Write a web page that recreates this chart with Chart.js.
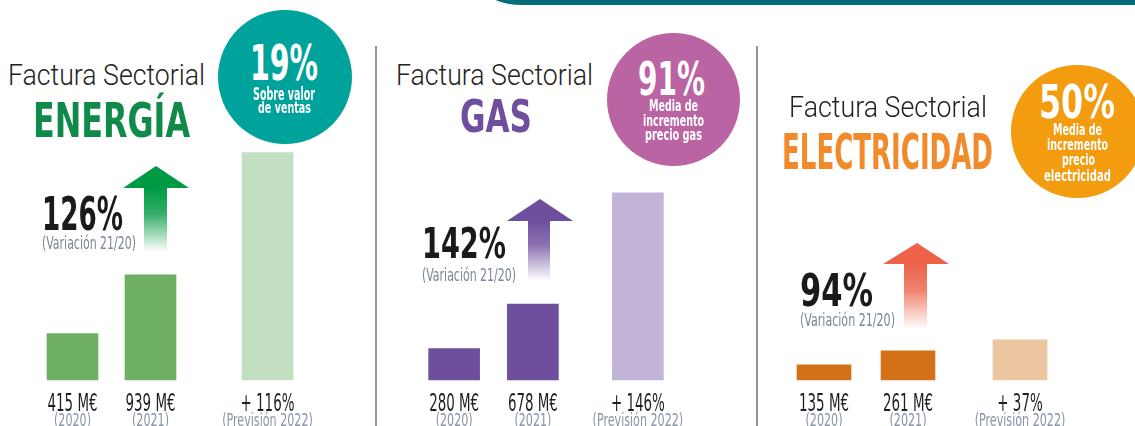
<!DOCTYPE html>
<html>
<head>
<meta charset="utf-8">
<script src="https://cdn.jsdelivr.net/npm/chart.js@4"></script>
<style>
  html, body { margin: 0; padding: 0; background: #fff; }
  #wrap { position: relative; width: 1135px; height: 426px; overflow: hidden; background: #fff; }
  .txt { position: absolute; white-space: nowrap; line-height: 1; transform-origin: left top; }
  .banner { position: absolute; left: 482px; right: -20px; top: -30px; height: 35px; background: #006c7c; border-bottom-left-radius: 40px 20px; }
  .divider { position: absolute; top: 46px; bottom: 0; width: 2px; background: #949494; }
  .circle { position: absolute; border-radius: 50%; }
  canvas { position: absolute; }
  svg { position: absolute; left: 0; top: 0; }
</style>
</head>
<body>
<div id="wrap">
  <div class="banner"></div>
  <div class="divider" style="left:375px"></div>
  <div class="divider" style="left:756px"></div>
  <div class="circle" style="left:218px;top:10px;width:134px;height:134px;background:#00a39b"></div>
  <div class="circle" style="left:607px;top:33px;width:133px;height:133px;background:#bb64a3"></div>
  <div class="circle" style="left:1011px;top:65px;width:133px;height:133px;background:#f49c10"></div>
  <svg width="1135" height="426">
    <defs>
      <linearGradient id="gEn" x1="0" y1="0" x2="0" y2="1">
        <stop offset="0" stop-color="#009a44" stop-opacity="1"/>
        <stop offset="0.4" stop-color="#009a44" stop-opacity="0.8"/>
        <stop offset="1" stop-color="#009a44" stop-opacity="0"/>
      </linearGradient>
      <linearGradient id="gGas" x1="0" y1="0" x2="0" y2="1">
        <stop offset="0" stop-color="#6f4e9e" stop-opacity="1"/>
        <stop offset="0.4" stop-color="#6f4e9e" stop-opacity="0.8"/>
        <stop offset="1" stop-color="#6f4e9e" stop-opacity="0"/>
      </linearGradient>
      <linearGradient id="gEl" x1="0" y1="0" x2="0" y2="1">
        <stop offset="0" stop-color="#ec634a" stop-opacity="1"/>
        <stop offset="0.4" stop-color="#ec634a" stop-opacity="0.8"/>
        <stop offset="1" stop-color="#ec634a" stop-opacity="0"/>
      </linearGradient>
    </defs>
    <polygon points="156,166 189,188 123,188" fill="#009a44"/>
    <rect x="144" y="188" width="23" height="64" fill="url(#gEn)"/>
    <polygon points="540,199 573,221 507,221" fill="#6f4e9e"/>
    <rect x="528" y="221" width="22" height="60" fill="url(#gGas)"/>
    <polygon points="917,243 949,264 883,264" fill="#ec634a"/>
    <rect x="904" y="264" width="23" height="65" fill="url(#gEl)"/>
  </svg>
  <canvas id="cEnergia" width="375" height="315" style="left:0;top:111px"></canvas>
  <canvas id="cGas" width="379" height="315" style="left:377px;top:111px"></canvas>
  <canvas id="cElec" width="377" height="315" style="left:758px;top:111px"></canvas>
</div>
<script>
// ---- data ----
const yearLabels = ['(2020)', '(2021)', '(Previsión 2022)'];

const energiaValues = [415, 939, 2030];
const energiaTicks = ['415 M€', '939 M€', '+ 116%'];

const gasValues = [280, 678, 1670];
const gasTicks = ['280 M€', '678 M€', '+ 146%'];

const elecValues = [135, 261, 358];
const elecTicks = ['135 M€', '261 M€', '+ 37%'];

const NARROW = "'Liberation Sans Narrow', 'DejaVu Sans Condensed', Roboto, sans-serif";
const wrap = document.getElementById('wrap');
const fitList = [];

// put a text line on the page: x/width in px, baseline + cap height
function addText(txt, o) {
    const el = document.createElement('div');
    el.className = 'txt';
    el.textContent = txt;
    const fs = o.cap / 0.716;
    el.style.fontSize = fs + 'px';
    el.style.top = (o.base - 0.85 * fs) + 'px';
    el.style.left = o.x + 'px';
    el.style.color = o.color || '#1c1c1c';
    el.style.fontWeight = o.weight || 700;
    el.style.fontFamily = o.font || NARROW;
    wrap.appendChild(el);
    fitList.push([el, o.w]);
}

function fitAll() {
    fitList.forEach(([el, w]) => {
        el.style.transform = 'none';
        const real = el.getBoundingClientRect().width;
        el.style.transform = 'scaleX(' + (w / real) + ')';
    });
}

// titles
addText('Factura Sectorial', { x: 8, base: 86, cap: 21, w: 197, weight: 300, font: 'Roboto, sans-serif', color: '#222' });
addText('ENERGÍA', { x: 33, base: 137, cap: 34, w: 157, color: '#0f8a48' });
addText('Factura Sectorial', { x: 396, base: 86, cap: 21, w: 197, weight: 300, font: 'Roboto, sans-serif', color: '#222' });
addText('GAS', { x: 460, base: 133, cap: 32, w: 72, color: '#6f4e9e' });
addText('Factura Sectorial', { x: 789, base: 118, cap: 21, w: 198, weight: 300, font: 'Roboto, sans-serif', color: '#222' });
addText('ELECTRICIDAD', { x: 782, base: 170, cap: 36, w: 211, color: '#f18a2b' });

// circles
addText('19%', { x: 250, base: 82, cap: 35, w: 68, color: '#fff' });
addText('Sobre valor', { x: 253, base: 100, cap: 12, w: 62, color: '#fff' });
addText('de ventas', { x: 258, base: 114, cap: 11.5, w: 53, color: '#fff' });

addText('91%', { x: 638, base: 95, cap: 33, w: 67, color: '#fff' });
addText('Media de', { x: 649, base: 112, cap: 11.5, w: 49, color: '#fff' });
addText('incremento', { x: 643, base: 127, cap: 11.5, w: 61, color: '#fff' });
addText('precio gas', { x: 645, base: 141, cap: 11.5, w: 57, color: '#fff' });

addText('50%', { x: 1039, base: 118, cap: 33, w: 76, color: '#fff' });
addText('Media de', { x: 1053, base: 136, cap: 11.5, w: 49, color: '#fff' });
addText('incremento', { x: 1047, base: 151, cap: 11.5, w: 61, color: '#fff' });
addText('precio', { x: 1062, base: 166, cap: 11.5, w: 33, color: '#fff' });
addText('electricidad', { x: 1044, base: 182, cap: 11.5, w: 67, color: '#fff' });

// variation 21/20
addText('126%', { x: 42, base: 230, cap: 33, w: 81, color: '#1a1a1a' });
addText('(Variación 21/20)', { x: 42, base: 249, cap: 12, w: 94, color: '#7b8796', weight: 400 });
addText('142%', { x: 422, base: 259, cap: 31, w: 84, color: '#1a1a1a' });
addText('(Variación 21/20)', { x: 422, base: 281, cap: 12, w: 94, color: '#7b8796', weight: 400 });
addText('94%', { x: 800, base: 307, cap: 32, w: 73, color: '#1a1a1a' });
addText('(Variación 21/20)', { x: 800, base: 326, cap: 12, w: 95, color: '#7b8796', weight: 400 });

fitAll();
if (document.fonts) document.fonts.ready.then(fitAll);

// labels under the bars, drawn from the x scale
const barLabels = {
    id: 'barLabels',
    afterDatasetsDraw(chart, args, opts) {
        const ctx = chart.ctx;
        const bottom = chart.chartArea.bottom;
        const meta = chart.getDatasetMeta(0);
        ctx.save();
        ctx.textAlign = 'center';
        ctx.textBaseline = 'alphabetic';
        const valueFont = '400 25px ' + NARROW;
        const yearFont = '400 17px ' + NARROW;
        ctx.font = valueFont;
        const vScale = 50 / ctx.measureText('415 M€').width;
        ctx.font = yearFont;
        const yScale = 37 / ctx.measureText('(2020)').width;
        opts.slots.forEach((slot, i) => {
            const x = meta.data[slot].x;
            ctx.save();
            ctx.translate(x, bottom + 31);
            ctx.scale(vScale, 1);
            ctx.font = valueFont;
            ctx.fillStyle = '#1f1f1f';
            ctx.fillText(opts.ticks[i], 0, 0);
            ctx.restore();

            ctx.save();
            ctx.translate(x, bottom + 46);
            ctx.scale(yScale, 1);
            ctx.font = yearFont;
            ctx.fillStyle = '#8795a6';
            ctx.fillText(yearLabels[i], 0, 0);
            ctx.restore();
        });
        ctx.restore();
    }
};

const makeChart = (id, values, ticks, colors, slots, nSlots, padL, padR, thickness) => {
    const labels = [];
    const data = [];
    const bg = [];
    for (let s = 0; s < nSlots; s++) {
        const k = slots.indexOf(s);
        labels.push(k >= 0 ? ticks[k] : '');
        data.push(k >= 0 ? values[k] : null);
        bg.push(k >= 0 ? colors[k] : 'transparent');
    }
    return new Chart(document.getElementById(id), {
        type: 'bar',
        data: {
            labels: labels,
            datasets: [{
                data: data,
                backgroundColor: bg,
                borderWidth: 0,
                barThickness: thickness,
                clip: false
            }]
        },
        options: {
            responsive: false,
            animation: false,
            layout: { padding: { left: padL, right: padR, top: 0, bottom: 46 } },
            scales: {
                x: { display: false },
                y: { display: false, min: 0, max: 2400 }
            },
            plugins: {
                legend: { display: false },
                tooltip: { enabled: false },
                barLabels: { slots: slots, ticks: ticks }
            }
        },
        plugins: [barLabels]
    });
};

makeChart('cEnergia', energiaValues, energiaTicks, ['#6fb065', '#6fb065', '#c3dfc1'], [0, 2, 5], 6, 53, 88, 51);
makeChart('cGas', gasValues, gasTicks, ['#6f4f9d', '#6f4f9d', '#c2b4d7'], [0, 3, 7], 8, 64, 105, 51);
makeChart('cElec', elecValues, elecTicks, ['#d27118', '#d27118', '#ecc6a1'], [0, 3, 7], 8, 52, 101, 54);
</script>
</body>
</html>
